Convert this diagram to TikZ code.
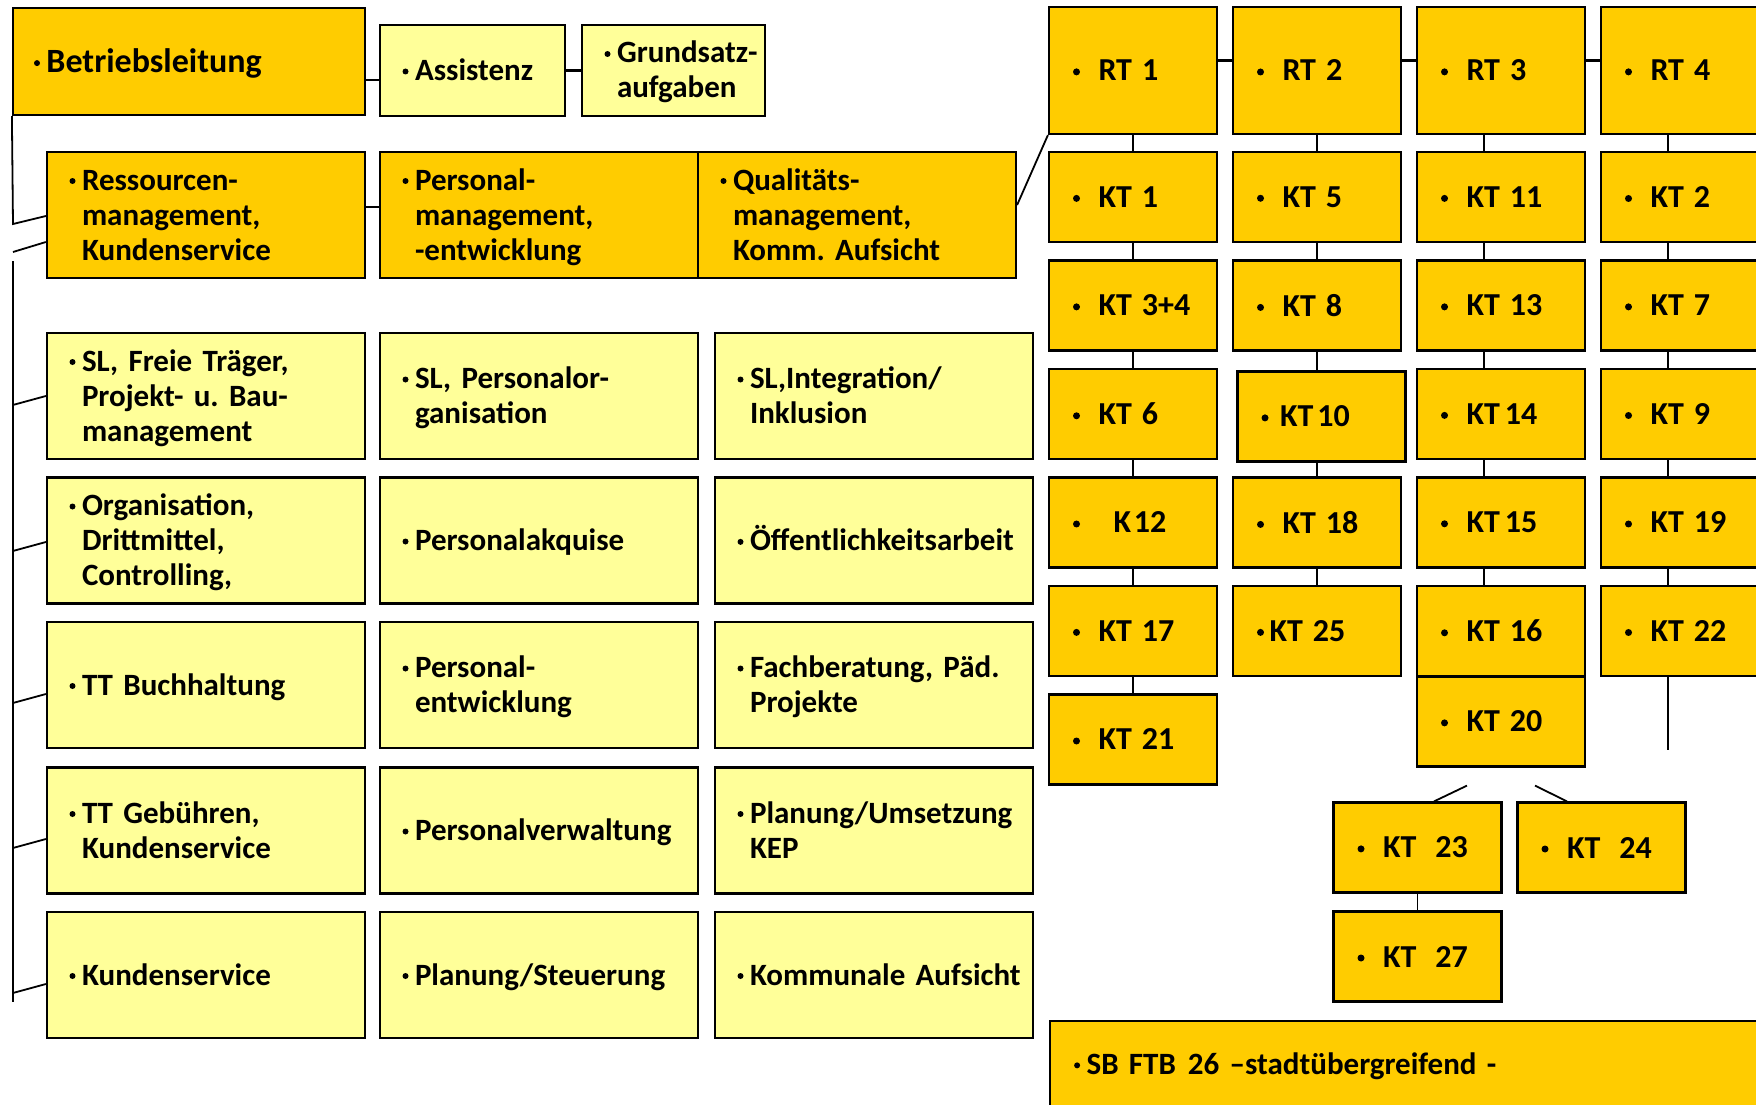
\documentclass[tikz,border=0pt]{standalone}
\usepackage{fontspec}
\setmainfont{Carlito}
\usetikzlibrary{backgrounds}

\definecolor{gold}{RGB}{255,204,0}
\definecolor{pale}{RGB}{255,255,153}

\frenchspacing
\newcommand{\dotb}[1][3pt]{\tikz[baseline=-9pt]\fill[black] (0,0) circle (#1);}
\newcommand{\itm}[1]{\mbox{\raisebox{-3pt}[\height][\depth]{\dotb\hspace{6.5pt}\begin{tabular}[t]{@{}l@{}}#1\end{tabular}}}}
\newcommand{\kt}[1]{\mbox{\dotb[3.5pt]\hspace{18.5pt}#1}}
\newcommand{\gp}{\hspace{10pt}}

\begin{document}
\begin{tikzpicture}[x=1pt, y=-1pt,
    box/.style={draw, line width=2.2pt, align=left, inner ysep=0pt,
      font=\bfseries\fontsize{31}{35}\selectfont},
    lbox/.style={box, fill=pale, text width=273pt, inner xsep=22.5pt, minimum height=126pt},
    mbox/.style={lbox, fill=gold},
    tbox/.style={box, fill=gold, text width=120pt, inner xsep=24pt, minimum height=90pt,
      font=\bfseries\fontsize{32}{35}\selectfont},
    link/.style={line width=1.8pt}]

  \useasboundingbox (0,0) rectangle (1756,1105);
  \clip (0,0) rectangle (1756,1105);

  % Leitung
  \node[mbox, text width=310pt, inner xsep=21pt, minimum height=107pt,
    font=\bfseries\fontsize{34}{38}\selectfont] (bl) at (189,61.5) {\itm{Betriebsleitung}};
  \node[lbox, text width=140pt, minimum height=91pt] (as) at (472.5,70.5) {\itm{Assistenz}};
  \node[lbox, text width=138pt, minimum height=91pt] (gs) at (673.5,70.5) {\itm{Grundsatz-\\aufgaben}};
  \node[mbox] (rm) at (206,215) {\itm{Ressourcen-\\management,\\Kundenservice}};
  \node[mbox] (pm) at (539,215) {\itm{Personal-\\management,\\-entwicklung}};
  \node[mbox] (qm) at (857,215) {\itm{Qualitäts-\\management,\\Komm. Aufsicht}};

  \foreach \y/\ta/\tb/\tc [count=\r] in {
      396/{SL, Freie Träger,\\Projekt- u. Bau-\\management}/{SL, Personalor-\\ganisation}/{SL,Integration/\\Inklusion},
      540.5/{Organisation,\\Drittmittel,\\Controlling,}/{Personalakquise}/{Öffentlichkeitsarbeit},
      685/{TT Buchhaltung}/{Personal-\\entwicklung}/{Fachberatung, Päd.\\Projekte},
      830.5/{TT Gebühren,\\Kundenservice}/{Personalverwaltung}/{Planung/Umsetzung\\KEP},
      975/{Kundenservice}/{Planung/Steuerung}/{Kommunale Aufsicht}}
    {\node[lbox] (p\r1) at (206,\y) {\itm{\ta}};
     \node[lbox] (p\r2) at (539,\y) {\itm{\tb}};
     \node[lbox] (p\r3) at (874,\y) {\itm{\tc}};}

  \draw[line width=2.5pt] ([yshift=-18.5pt]bl.east) -- ([yshift=-9.5pt]as.west);
  \draw[line width=2.5pt] (as) -- (gs);
  \draw[line width=2.5pt] ([yshift=8pt]rm.east) -- ([yshift=8pt]pm.west);

  % linke Linie
  \coordinate (s0) at (13,224);
  \coordinate (s1) at (13,252);
  \coordinate (s2) at (13,261);
  \coordinate (s3) at (13,1002);
  \draw[link] (bl.south west) -- (s0) -- ([yshift=-1pt]rm.west);
  \draw[link] (s1) -- ([yshift=-27pt]rm.west);
  \draw[link] (s2) -- (s3);
  \foreach \r/\d in {1/0, 2/1.5, 3/9, 4/8.5, 5/9}
    \draw[link] ([yshift=-\d pt]p\r1.west) -- ++(-33,9);

  % Regionen und Kitas
  \foreach \i in {1,...,4}
    \node[tbox, minimum height=127pt] (rt\i) at ({949+184*\i},70.5) {\kt{RT\gp\i}};
  \foreach \t [count=\r] in {KT\gp 1, KT\gp 3+4, KT\gp 6, {\hspace{15pt}K\hspace{3pt}12}, KT\gp 17, KT\gp 21}
    \node[tbox] (a\r) at (1133,{88.5+108.5*\r}) {\kt{\t}};
  \foreach \t/\dx/\dy [count=\r] in {KT\gp 5/0/0, KT\gp 8/0/0, {\hspace{-7pt}KT\hspace{4pt}10}/4.5/2.5,
      KT\gp 18/0/0, {\hspace{-13pt}KT\gp 25}/0/0}
    \node[tbox] (b\r) at ({1317+\dx},{88.5+108.5*\r+\dy}) {\kt{\t}};
  \foreach \t [count=\r] in {KT\gp 11, KT\gp 13, KT\hspace{5pt}14, KT\hspace{5pt}15, KT\gp 16}
    \node[tbox] (c\r) at (1501,{88.5+108.5*\r}) {\kt{\t}};
  \foreach \t [count=\r] in {KT\gp 2, KT\gp 7, KT\gp 9, KT\gp 19, KT\gp 22}
    \node[tbox] (d\r) at (1685,{88.5+108.5*\r}) {\kt{\t}};
  \node[tbox] (kt20) at (1501,721.5) {\kt{KT\gp 20}};
  \node[tbox] (kt23) at (1417.5,847.5) {\kt{KT\hspace{19pt}23}};
  \node[tbox] (kt24) at (1601.5,847.5) {\kt{KT\hspace{19pt}24}};
  \node[tbox] (kt27) at (1417.5,956.5) {\kt{KT\hspace{19pt}27}};
  \node[tbox, anchor=north west, text width=700pt, inner xsep=24pt, minimum height=90pt,
    font=\bfseries\fontsize{31}{35}\selectfont] (sb) at (1049,1020)
    {\mbox{\dotb\hspace{6.5pt}SB FTB\hspace{12pt}26 --stadtübergreifend -}};

  \begin{scope}[on background layer]
    \draw[line width=3pt] ([yshift=9.5pt]rt1.east) -- ([yshift=9.5pt]rt4.west);
    \draw[link] (rt1.south) -- (a6.north);
    \draw[link] (rt2.south) -- (b5.north);
    \draw[link] ([xshift=-17pt]rt3.south) -- ([xshift=-17pt]c5.north);
    \draw[link] ([xshift=-17pt]rt4.south) -- ([xshift=-17pt,yshift=-73pt]d5.south);
  \end{scope}

  \draw[link] (rt1.south west) -- ([yshift=10pt]qm.east);
  \draw[link] ([shift={(-34,18)}]kt20.south) -- ([xshift=16.5pt]kt23.north);
  \draw[link] ([shift={(34,18)}]kt20.south) -- ([xshift=-34.5pt]kt24.north);
  \draw[link] (kt23) -- (kt27);
\end{tikzpicture}
\end{document}
